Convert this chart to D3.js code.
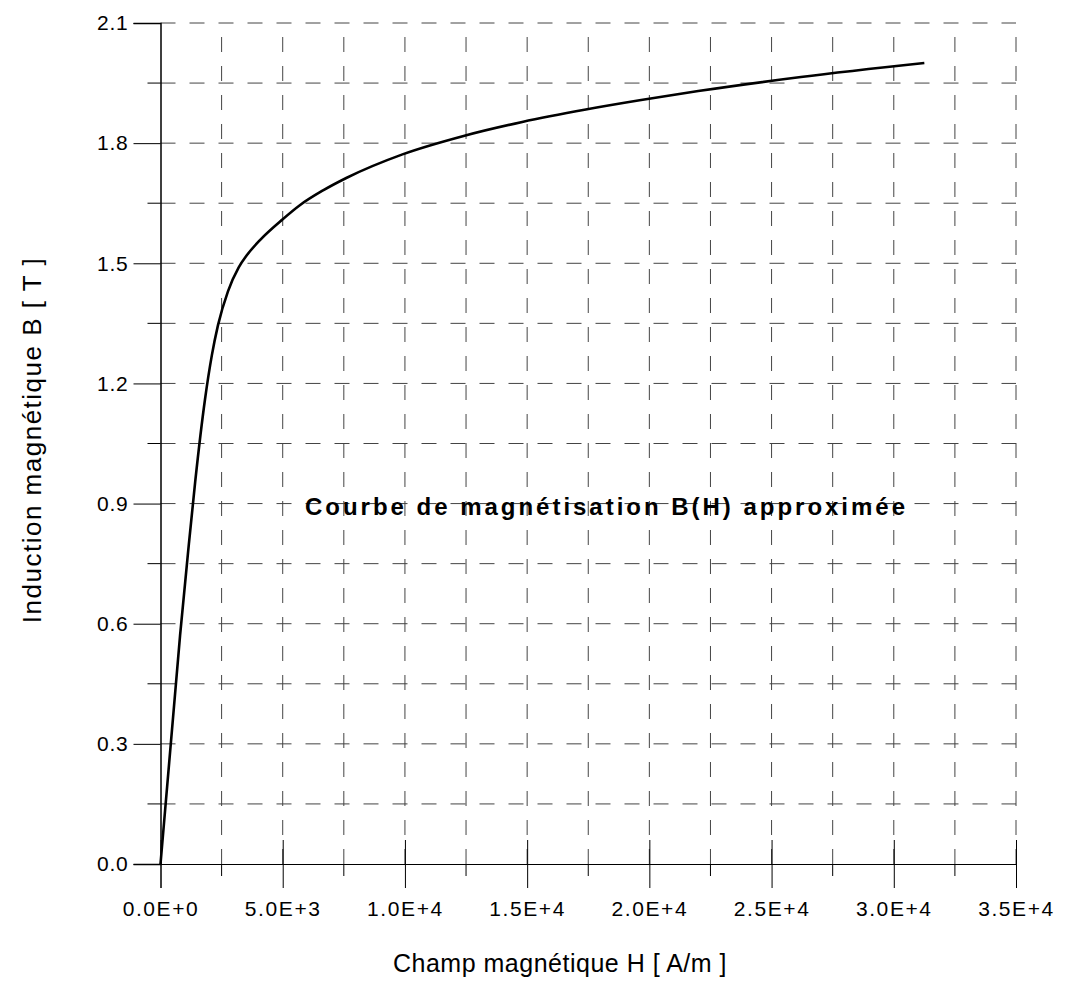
<!DOCTYPE html>
<html>
<head>
<meta charset="utf-8">
<script src="https://cdn.jsdelivr.net/npm/d3@7"></script>
<style>
  body { margin: 0; background: #fff; }
  text { font-family: "Liberation Sans", Arial, sans-serif; fill: #000; }
</style>
</head>
<body>
<svg id="chart" width="1075" height="995"></svg>
<script>
// curve
const hValues = [0, 800, 1130, 1420, 1820, 2100, 2350, 2760, 3200, 3530, 4070, 5000, 5700, 6650, 7600, 9900, 12400, 14800, 17400, 19600, 22000, 26200, 31250];
const bValues = [0, 0.57, 0.78, 0.955, 1.16, 1.27, 1.345, 1.43, 1.49, 1.52, 1.558, 1.61, 1.645, 1.682, 1.713, 1.772, 1.818, 1.853, 1.884, 1.907, 1.93, 1.965, 2.0];

const xTicks = [0, 5000, 10000, 15000, 20000, 25000, 30000, 35000];
const xTickLabels = ["0.0E+0", "5.0E+3", "1.0E+4", "1.5E+4", "2.0E+4", "2.5E+4", "3.0E+4", "3.5E+4"];
const yTicks = [0, 0.3, 0.6, 0.9, 1.2, 1.5, 1.8, 2.1];
const yTickLabels = ["0.0", "0.3", "0.6", "0.9", "1.2", "1.5", "1.8", "2.1"];
const xMinor = d3.range(1, 15).map(i => i * 2500);
const yMinor = d3.range(1, 15).map(i => +(i * 0.15).toFixed(2));

const xTitle = "Champ magnétique H [ A/m ]";
const yTitle = "Induction magnétique B [ T ]";
const note = "Courbe de magnétisation B(H) approximée";

const margin = { top: 23, right: 59, bottom: 131, left: 160.5 };
const width = 1075, height = 995;

const svg = d3.select("#chart");

const x = d3.scaleLinear().domain([0, 35000]).range([margin.left, width - margin.right]);
const y = d3.scaleLinear().domain([0, 2.1]).range([height - margin.bottom, margin.top]);

// dashed grid
const grid = svg.append("g").attr("stroke", "#444").attr("stroke-width", 1)
  .attr("stroke-dasharray", "15,14").attr("fill", "none");

grid.selectAll(".vg")
  .data(xMinor)
  .join("line")
  .attr("x1", d => x(d)).attr("x2", d => x(d))
  .attr("y1", y(0)).attr("y2", y(2.1));

grid.selectAll(".hg")
  .data(yMinor)
  .join("line")
  .attr("x1", x(0)).attr("x2", x(35000))
  .attr("y1", d => y(d)).attr("y2", d => y(d));

// axes
const xAxis = svg.append("g")
  .attr("transform", `translate(0,${y(0)})`)
  .call(d3.axisBottom(x).tickValues(xTicks).tickSize(24).tickFormat((d, i) => xTickLabels[i]));
xAxis.select(".domain").attr("stroke", "#000");
xAxis.selectAll(".tick line").attr("y1", -24).attr("stroke", "#000");
xAxis.selectAll(".tick text")
  .attr("y", 37)
  .style("font-size", "21px")
  .style("letter-spacing", "1.6px")
  .attr("font-family", null);

svg.append("g")
  .attr("transform", `translate(0,${y(0)})`)
  .selectAll("line")
  .data(xMinor.filter(d => d % 5000 !== 0))
  .join("line")
  .attr("x1", d => x(d)).attr("x2", d => x(d))
  .attr("y1", 0).attr("y2", 12)
  .attr("stroke", "#000");

const yAxis = svg.append("g")
  .attr("transform", `translate(${x(0)},0)`)
  .call(d3.axisLeft(y).tickValues(yTicks).tickSize(27).tickFormat((d, i) => yTickLabels[i]));
yAxis.select(".domain").attr("stroke", "#000").attr("stroke-width", 1.5);
yAxis.selectAll(".tick line").attr("stroke", "#000");
yAxis.selectAll(".tick text")
  .attr("x", -32)
  .style("font-size", "21px")
  .style("letter-spacing", "0.8px")
  .attr("font-family", null);

svg.append("g")
  .attr("transform", `translate(${x(0)},0)`)
  .selectAll("line")
  .data(yMinor.filter(d => Math.round(d * 100) % 30 !== 0))
  .join("line")
  .attr("x1", -13).attr("x2", 0)
  .attr("y1", d => y(d)).attr("y2", d => y(d))
  .attr("stroke", "#000");

// curve
const line = d3.line()
  .x((d, i) => x(hValues[i]))
  .y(d => y(d))
  .curve(d3.curveMonotoneX);

svg.append("path")
  .datum(bValues)
  .attr("d", line)
  .attr("fill", "none")
  .attr("stroke", "#000")
  .attr("stroke-width", 2.6);

// titles
svg.append("text")
  .attr("x", 560).attr("y", 972)
  .attr("text-anchor", "middle")
  .style("font-size", "25px")
  .style("letter-spacing", "0.5px")
  .text(xTitle);

svg.append("text")
  .attr("transform", "translate(41,440) rotate(-90)")
  .attr("text-anchor", "middle")
  .style("font-size", "26px")
  .style("letter-spacing", "1.5px")
  .text(yTitle);

svg.append("text")
  .attr("x", 305).attr("y", 515)
  .attr("textLength", 600)
  .attr("lengthAdjust", "spacing")
  .style("font-size", "24px")
  .style("font-weight", "bold")
  .text(note);
</script>
</body>
</html>
